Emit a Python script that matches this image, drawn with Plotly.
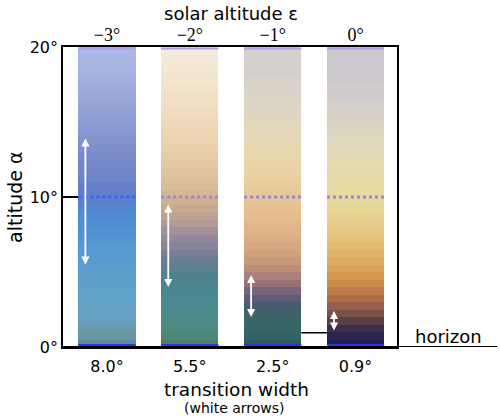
import plotly.graph_objects as go

# Sky colour columns seen at four solar altitudes, read off in 0.5° altitude bands
# (bottom band first, 0°..20°).
solar_altitudes = ["−3°", "−2°", "−1°", "0°"]
transition_widths = ["8.0°", "5.5°", "2.5°", "0.9°"]
band_step = 0.5

sky_minus3 = [
    "#5a8aa6", "#6a96a4", "#6a9aaa", "#66a0bc", "#64a2c2", "#64a2c4", "#62a2c6", "#62a2c8",
    "#60a0c8", "#5e9fca", "#5c9ecc", "#5a9ccd", "#589acf", "#5698d0", "#5494d2", "#5292d2",
    "#5090d2", "#528cd0", "#5686ce", "#5a82cc", "#6080cc", "#667fca", "#6c84c8", "#7086c8",
    "#7488c8", "#788cca", "#7e90cc", "#8294ce", "#8698d0", "#8a9ad2", "#8e9ed4", "#92a2d6",
    "#96a4d8", "#9aa8da", "#9eacdc", "#a2b0de", "#a6b2e0", "#a8b4e2", "#aab6e4", "#acb8e6",
]
sky_minus2 = [
    "#4a7e72", "#4e8678", "#508a82", "#4e8a88", "#4c8a8c", "#4a8890", "#4a8892", "#4a8692",
    "#4c8490", "#50828e", "#5a808e", "#687e92", "#787e98", "#88849c", "#96889c", "#a4909a",
    "#b29a96", "#bea292", "#c8aa90", "#d0b092", "#d6b694", "#dabc98", "#dec09c", "#e2c4a0",
    "#e6c8a4", "#e8cca8", "#eacfac", "#ecd2b0", "#edd6b4", "#eed8b8", "#efdabc", "#f0dcc0",
    "#f1dec4", "#f2e0c6", "#f2e2ca", "#f3e4cc", "#f3e6d0", "#f4e8d4", "#f4e8d6", "#f4eada",
]
sky_minus1 = [
    "#2c5a62", "#346266", "#386668", "#3a6668", "#3e6268", "#4a5a70", "#5e5a78", "#786478",
    "#947276", "#aa8078", "#bc8e7a", "#c89a7c", "#d2a27e", "#d8a880", "#dcae84", "#e0b488",
    "#e2b88a", "#e4bc8e", "#e6c092", "#e6c494", "#e8c898", "#e8cc9c", "#eacfa0", "#ead2a4",
    "#e8d4a8", "#e8d6ac", "#e6d6b0", "#e6d8b4", "#e4d8b8", "#e2d8bc", "#e0d6c0", "#ded6c2",
    "#dcd4c4", "#dad4c6", "#d8d2c8", "#d8d2ca", "#d6d0cc", "#d6d0cc", "#d4d0cc", "#d4d0ce",
]
sky_zero = [
    "#221e58", "#2e2450", "#3c2e4c", "#5a4046", "#7a5048", "#985e4c", "#b06c48", "#c07c46",
    "#ca8a48", "#d2984e", "#d8a458", "#dcac62", "#e0b46a", "#e2ba72", "#e4c27c", "#e6c884",
    "#e8ce8c", "#e8d292", "#e8d698", "#e8d89c", "#e8daa0", "#e6daa4", "#e6dba8", "#e4dbac",
    "#e4dbb0", "#e2dab4", "#e0d8b8", "#ded8bc", "#dcd6c0", "#dad4c4", "#d8d2c6", "#d6d0c8",
    "#d4cfca", "#d2cdcc", "#d0cccc", "#cecacc", "#cdcacd", "#cccace", "#cbc9ce", "#cac8ce",
]

# white arrows: altitude range of the colour transition
arrow_top = [13.9, 9.5, 4.8, 2.4]
arrow_bottom = [5.4, 3.9, 1.9, 1.0]
horizon_alt = 0.95

columns = [sky_minus3, sky_minus2, sky_minus1, sky_zero]
xpos = list(range(len(columns)))
half = 0.345

fig = go.Figure()

# stacked colour bands
for k in range(len(sky_zero)):
    fig.add_trace(go.Bar(
        x=xpos, y=[band_step] * len(columns),
        marker=dict(color=[col[k] for col in columns], line_width=0),
        width=2 * half, hoverinfo="skip", showlegend=False,
    ))

# dotted reference lines across each column
ten_colors = ["#4a5ef2", "#9a86d6", "#9a86d6", "#9a86d6"]
for i in xpos:
    fig.add_trace(go.Scatter(x=[i - half, i + half], y=[10, 10], mode="lines",
                             line=dict(color=ten_colors[i], width=3, dash="dot"),
                             hoverinfo="skip", showlegend=False))
    fig.add_trace(go.Scatter(x=[i - half, i + half], y=[0.12, 0.12], mode="lines",
                             line=dict(color="#2838d0", width=2.5),
                             hoverinfo="skip", showlegend=False))
    fig.add_trace(go.Scatter(x=[i - half, i + half], y=[19.9, 19.9], mode="lines",
                             line=dict(color="#b0a0e8", width=2),
                             hoverinfo="skip", showlegend=False))

# transition arrows
for i in xpos:
    xa = i - 0.26
    fig.add_annotation(x=xa, y=arrow_top[i], ax=xa, ay=arrow_bottom[i],
                       xref="x", yref="y", axref="x", ayref="y", text="",
                       showarrow=True, arrowside="end+start", arrowhead=2,
                       startarrowhead=2, arrowsize=0.9, startarrowsize=0.9,
                       arrowwidth=1.8, arrowcolor="white")

# little horizon marker between the last two columns
fig.add_shape(type="line", xref="x", yref="y", x0=2 + half, x1=3 - half,
              y0=horizon_alt, y1=horizon_alt, line=dict(color="black", width=1.5))
# extended horizon line
fig.add_shape(type="line", xref="paper", yref="y", x0=0, x1=1.30, y0=0, y1=0,
              line=dict(color="black", width=2))

labels = [
    ("horizon", 1.153, 0.036, 18, 0),
    ("solar altitude ε", 0.503, 1.11, 18, 0),
    ("transition width", 0.518, -0.14, 18.5, 0),
    ("(white arrows)", 0.512, -0.203, 14, 0),
    ("altitude α", -0.144, 0.5, 19, -90),
]
for text, x, y, size, angle in labels:
    fig.add_annotation(text=text, xref="paper", yref="paper", x=x, y=y,
                       xanchor="center", yanchor="middle", textangle=angle,
                       showarrow=False, font=dict(size=size))

fig.update_layout(
    width=500, height=418,
    margin=dict(l=63, r=103, t=47, b=71, autoexpand=False),
    paper_bgcolor="white", plot_bgcolor="white",
    barmode="stack",
    font=dict(family="DejaVu Sans", color="black"),
    xaxis=dict(range=[-0.53, 3.5], tickvals=xpos, ticktext=transition_widths,
               ticks="outside", ticklen=4, tickcolor="rgba(0,0,0,0)",
               tickfont=dict(size=16), showline=True, linecolor="black",
               linewidth=1.5, showgrid=False, zeroline=False, automargin=False),
    xaxis2=dict(range=[-0.53, 3.5], overlaying="x", side="top", tickvals=xpos,
                ticktext=solar_altitudes, ticks="", ticklabelstandoff=-3,
                tickfont=dict(size=18, family="Liberation Serif"),
                showline=True, linecolor="black", linewidth=1.5, showgrid=False,
                zeroline=False, automargin=False),
    yaxis=dict(range=[0, 20], tickvals=[0, 10, 20], ticktext=["0°", "10°", "20°"],
               ticks="inside", ticklen=15, tickwidth=1.5, tickcolor="black",
               tickfont=dict(size=16), showline=True, mirror=True, linecolor="black",
               linewidth=1.5, showgrid=False, zeroline=False, automargin=False),
)
# keep the top axis visible by giving it an invisible trace
fig.add_trace(go.Scatter(x=[0], y=[0], xaxis="x2", mode="markers",
                         marker=dict(opacity=0), hoverinfo="skip", showlegend=False))

# drop the default page margin so the figure sits at the window's corner
fig.write_html("out.html", config={"displayModeBar": False},
               post_script="document.body.style.margin = '0';")
